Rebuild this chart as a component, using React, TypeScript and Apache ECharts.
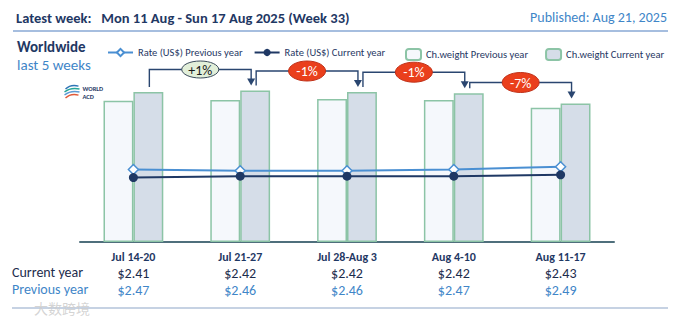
import React, { useEffect, useRef } from "react";
import * as echarts from "echarts";

const weeks = ["Jul 14-20", "Jul 21-27", "Jul 28-Aug 3", "Aug 4-10", "Aug 11-17"];
const ratePrev = [2.47, 2.46, 2.46, 2.47, 2.49];
const rateCur = [2.41, 2.42, 2.42, 2.42, 2.43];
const weightPrev = [141.3, 142.0, 143.0, 142.0, 134.3];
const weightCur = [150.0, 151.5, 150.0, 148.8, 138.5];
const wowChange = ["+1%", "-1%", "-1%", "-7%"];

const seriesNames = [
  "Rate (US$) Previous year",
  "Rate (US$) Current year",
  "Ch.weight Previous year",
  "Ch.weight Current year",
];

const FONT = "Carlito, Calibri, Lato, sans-serif";
const NAVY = "#1f3864";
const LIGHT = "#3f86c8";
const BAR_BORDER = "#8cc4a6";

export default function App() {
  const ref = useRef<HTMLDivElement>(null);
  useEffect(() => {
    if (!ref.current) return;
    const chart = echarts.init(ref.current, undefined, { renderer: "svg" });
    const bracketData = wowChange.map((_, i) => [i, weightCur[i], weightCur[i + 1]]);
    const option: any = {
      animation: false,
      textStyle: { fontFamily: FONT },
      grid: { left: 80, right: 67, top: 62, bottom: 82 },
      legend: [
        {
          data: [seriesNames[0], seriesNames[1]],
          left: 102,
          top: 42,
          width: 300,
          itemWidth: 25,
          itemHeight: 9,
          itemGap: 11,
          textStyle: { fontFamily: FONT, fontSize: 10.5, color: NAVY },
        },
        {
          data: [seriesNames[2], seriesNames[3]],
          left: 400,
          top: 43,
          width: 281,
          itemWidth: 15,
          itemHeight: 11,
          itemGap: 17,
          textStyle: { fontFamily: FONT, fontSize: 10.5, color: NAVY },
        },
      ],
      xAxis: {
        type: "category",
        data: weeks,
        axisLine: { lineStyle: { color: "#4f6f7c", width: 2 } },
        axisTick: { show: false },
        axisLabel: {
          interval: 0,
          margin: 7,
          formatter: (v: string, idx: number) =>
            `{cat|${v}}\n{cur|$${rateCur[idx].toFixed(2)}}\n{prev|$${ratePrev[idx].toFixed(2)}}`,
          rich: {
            cat: { fontFamily: FONT, fontWeight: "bold", fontSize: 12, color: NAVY, lineHeight: 16 },
            cur: { fontFamily: FONT, fontSize: 14, color: "#1c2c4c", lineHeight: 17 },
            prev: { fontFamily: FONT, fontSize: 14, color: LIGHT, lineHeight: 17 },
          },
        },
      },
      yAxis: [
        { type: "value", min: 0, max: 180, show: false, splitLine: { show: false } },
        { type: "value", min: 1.93, max: 3.27, show: false, splitLine: { show: false } },
      ],
      series: [
        {
          name: seriesNames[2],
          type: "bar",
          data: weightPrev,
          barWidth: "28%",
          barGap: "0%",
          itemStyle: { color: "#f5f8fc", borderColor: BAR_BORDER, borderWidth: 1.5 },
        },
        {
          name: seriesNames[3],
          type: "bar",
          data: weightCur,
          barWidth: "28%",
          barGap: "0%",
          itemStyle: { color: "#d5dde8", borderColor: BAR_BORDER, borderWidth: 1.5 },
        },
        {
          name: seriesNames[0],
          type: "line",
          yAxisIndex: 1,
          data: ratePrev,
          symbol: "diamond",
          symbolSize: 10,
          lineStyle: { color: "#4a8fd2", width: 2 },
          itemStyle: { color: "#ffffff", borderColor: "#4a8fd2", borderWidth: 1.5 },
          z: 5,
        },
        {
          name: seriesNames[1],
          type: "line",
          yAxisIndex: 1,
          data: rateCur,
          symbol: "circle",
          symbolSize: 9,
          lineStyle: { color: NAVY, width: 2 },
          itemStyle: { color: NAVY },
          z: 6,
        },
        {
          type: "custom",
          clip: false,
          z: 10,
          data: bracketData,
          renderItem: (params: any, api: any) => {
            const i = api.value(0);
            const from = api.coord([i, api.value(1)]);
            const to = api.coord([i + 1, api.value(2)]);
            const cw = api.size([1, 0])[0];
            const half = cw * 0.14;
            const x1 = from[0] + half + 1;
            const x2 = to[0] + half - 4;
            const yTop = to[1] - 21;
            const y1 = from[1] - 5;
            const y2 = to[1] - 5;
            const label = wowChange[params.dataIndex];
            const pos = label.startsWith("+");
            const mx = (x1 + x2) / 2;
            return {
              type: "group",
              children: [
                {
                  type: "polyline",
                  shape: { points: [[x1, y1], [x1, yTop], [x2, yTop], [x2, y2 - 6]] },
                  style: { stroke: "#2a4670", lineWidth: 1.4, fill: null },
                },
                {
                  type: "polygon",
                  shape: { points: [[x2 - 4, y2 - 7], [x2 + 4, y2 - 7], [x2, y2]] },
                  style: { fill: "#2a4670" },
                },
                {
                  type: "ellipse",
                  shape: { cx: mx, cy: yTop, rx: 18.5, ry: pos ? 8.5 : 10 },
                  style: pos
                    ? { fill: "#e2efd9", stroke: "#3a4a5a", lineWidth: 1 }
                    : { fill: "#ea3f1c", stroke: "#c0321a", lineWidth: 1 },
                },
                {
                  type: "text",
                  style: {
                    text: label,
                    x: mx,
                    y: yTop + 0.5,
                    align: "center",
                    verticalAlign: "middle",
                    fill: pos ? "#1a1a1a" : "#ffffff",
                    font: `14px ${FONT}`,
                  },
                },
              ],
            };
          },
        },
      ],
      graphic: [
        {
          type: "text",
          left: 16,
          top: 10,
          style: {
            text: "Latest week:   Mon 11 Aug - Sun 17 Aug 2025 (Week 33)",
            font: `bold 14.5px ${FONT}`,
            fill: NAVY,
          },
        },
        {
          type: "text",
          right: 14,
          top: 10,
          style: { text: "Published: Aug 21, 2025", font: `14px ${FONT}`, fill: LIGHT },
        },
        {
          type: "line",
          shape: { x1: 13, y1: 31, x2: 668, y2: 31 },
          style: { stroke: "#4f7fc0", lineWidth: 1.2 },
        },
        {
          type: "text",
          left: 17,
          top: 39,
          style: { text: "Worldwide", font: `bold 15px ${FONT}`, fill: NAVY },
        },
        {
          type: "text",
          left: 17,
          top: 57,
          style: { text: "last 5 weeks", font: `15px ${FONT}`, fill: LIGHT },
        },
        // WORLD ACD logo
        {
          type: "group",
          left: 62,
          top: 83,
          children: [
            { type: "bezierCurve", shape: { x1: 1, y1: 4, cpx1: 5, cpy1: 0, cpx2: 10, cpy2: 0, x2: 14, y2: 1 }, style: { stroke: "#2e75b6", lineWidth: 1.4, fill: null } },
            { type: "bezierCurve", shape: { x1: 0, y1: 7, cpx1: 5, cpy1: 3, cpx2: 10, cpy2: 3, x2: 15, y2: 4 }, style: { stroke: "#26a69a", lineWidth: 1.4, fill: null } },
            { type: "bezierCurve", shape: { x1: 0, y1: 10, cpx1: 5, cpy1: 6, cpx2: 10, cpy2: 6, x2: 15, y2: 7 }, style: { stroke: "#5b9bd5", lineWidth: 1.4, fill: null } },
            { type: "bezierCurve", shape: { x1: 1, y1: 13, cpx1: 5, cpy1: 9, cpx2: 10, cpy2: 9, x2: 14, y2: 10 }, style: { stroke: "#e05a3a", lineWidth: 1.4, fill: null } },
            { type: "text", x: 18, y: 0, style: { text: "WORLD", font: `bold 6.5px ${FONT}`, fill: NAVY, verticalAlign: "top" } },
            { type: "text", x: 18, y: 8, style: { text: "ACD", font: `bold 6.5px ${FONT}`, fill: NAVY, verticalAlign: "top" } },
          ],
        },
        {
          type: "text",
          left: 12,
          top: 265,
          style: { text: "Current year", font: `14px ${FONT}`, fill: "#1c2c4c" },
        },
        {
          type: "text",
          left: 12,
          top: 282,
          style: { text: "Previous year", font: `14px ${FONT}`, fill: LIGHT },
        },
        {
          type: "line",
          shape: { x1: 12, y1: 308, x2: 668, y2: 308 },
          style: { stroke: "#8ea6c8", lineWidth: 1.2 },
        },
        {
          type: "text",
          left: 34,
          top: 301,
          style: { text: "大数跨境", font: `14px "Noto Sans CJK SC", sans-serif`, fill: "rgba(205,205,205,0.85)" },
        },
      ],
    };
    chart.setOption(option);
    return () => chart.dispose();
  }, []);
  return (
    <div
      ref={ref}
      style={{ position: "fixed", left: 0, top: 0, width: 681, height: 324, background: "#ffffff" }}
    />
  );
}
